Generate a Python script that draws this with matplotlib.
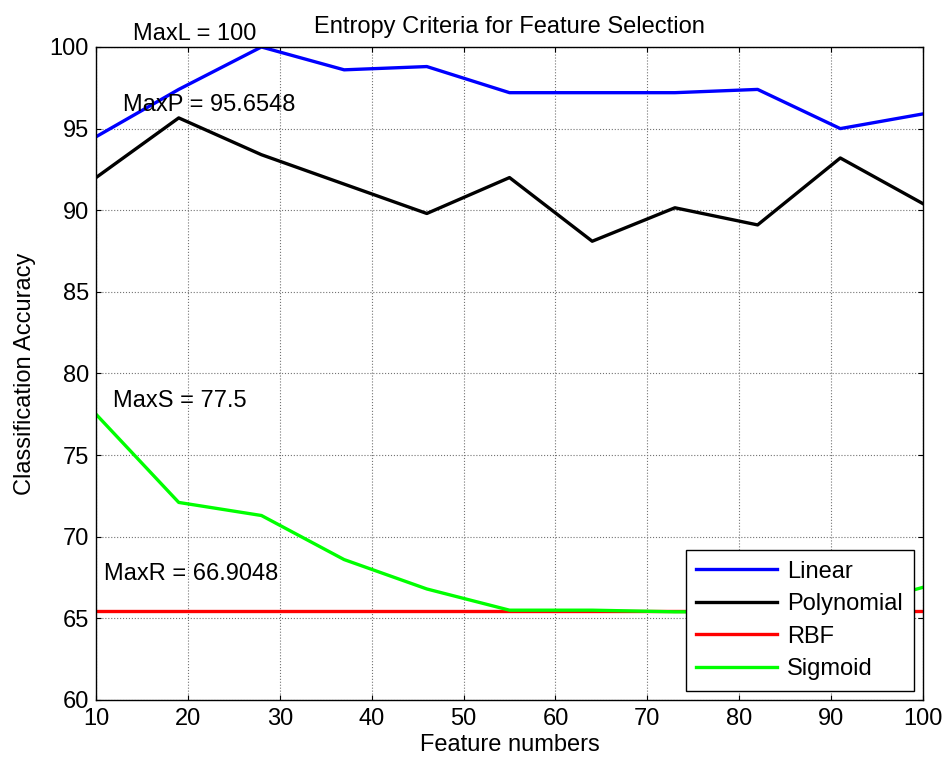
import numpy as np
import matplotlib
matplotlib.use("Agg")
import matplotlib.pyplot as plt

plt.rcParams["font.family"] = ["Liberation Sans", "DejaVu Sans"]

# Data
features = [10, 19, 28, 37, 46, 55, 64, 73, 82, 91, 100]
linear = [94.5, 97.4, 100.0, 98.6, 98.8, 97.2, 97.2, 97.2, 97.4, 95.0, 95.9]
polynomial = [92.0, 95.6548, 93.4, 91.6, 89.8, 92.0, 88.1, 90.15, 89.1, 93.2, 90.4]
rbf = [65.48] * 11
sigmoid = [77.5, 72.1, 71.3, 68.6, 66.8, 65.5, 65.5, 65.4, 65.4, 65.5, 66.9]

series_names = ["Linear", "Polynomial", "RBF", "Sigmoid"]
series_colors = ["#0000ff", "#000000", "#ff0000", "#00ff00"]

# annotation texts and anchor points (data coords)
notes = ["MaxL = 100", "MaxP = 95.6548", "MaxS = 77.5", "MaxR = 66.9048"]
note_x = [14.0, 12.9, 11.9, 10.9]
note_y = [100.43, 96.07, 77.93, 67.34]

fs = 17

fig = plt.figure(figsize=(9.49, 7.65), dpi=100)
ax = fig.add_axes([0.1012, 0.085, 0.8714, 0.8536])

for vals, name, col in zip([linear, polynomial, rbf, sigmoid], series_names, series_colors):
    ax.plot(features, vals, color=col, lw=2.4, label=name)

for t, xx, yy in zip(notes, note_x, note_y):
    ax.text(xx, yy, t, fontsize=fs, ha="left", va="baseline", clip_on=False)

ax.set_xlim(10, 100)
ax.set_ylim(60, 100)
ax.set_xticks(np.arange(10, 101, 10))
ax.set_yticks(np.arange(60, 101, 5))
ax.grid(True, linestyle=":", color="0.45", linewidth=0.8)
ax.tick_params(direction="in", top=True, right=True, length=3.5, width=0.8,
               labelsize=fs, pad=6)
ax.tick_params(axis="y", pad=5)
for s in ax.spines.values():
    s.set_linewidth(1.0)

ax.set_title("Entropy Criteria for Feature Selection", fontsize=fs, pad=10)
ax.set_xlabel("Feature numbers", fontsize=fs, labelpad=3)
ax.set_ylabel("Classification Accuracy", fontsize=fs, labelpad=10)

leg = ax.legend(loc="lower right", fontsize=fs, handlelength=3.4, handletextpad=0.45,
                labelspacing=0.44, borderaxespad=0.4, borderpad=0.45,
                fancybox=False, framealpha=1, edgecolor="black")
leg.get_frame().set_linewidth(1.0)

fig.savefig("out.png", dpi=100)
